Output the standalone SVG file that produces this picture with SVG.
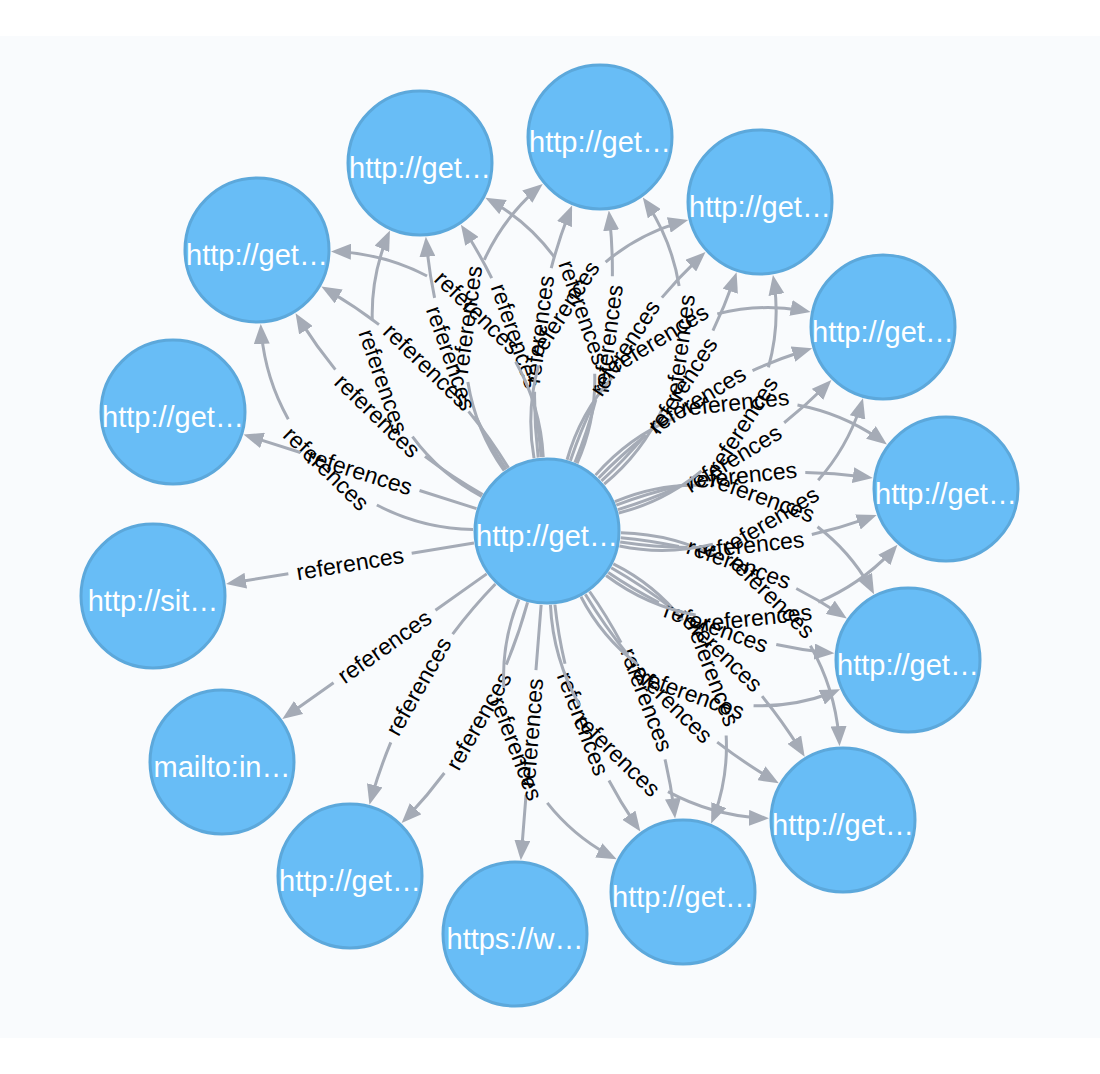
<svg xmlns="http://www.w3.org/2000/svg" width="1100" height="1074" viewBox="0 0 1100 1074">
<style>
.node circle{fill:#68bdf6;stroke:#5ca8db;stroke-width:3}
.node text{font-family:"Liberation Sans",Arial,Helvetica,sans-serif;font-size:29px;fill:#ffffff;text-anchor:middle}
.rel path{fill:none;stroke:#a5abb6;stroke-width:3;marker-end:url(#arrow)}
.rel text{font-family:"Liberation Sans",Arial,Helvetica,sans-serif;font-size:23px;fill:#000000;text-anchor:middle}
</style>
<defs>
<marker id="arrow" viewBox="-20 -8 20 16" refX="0" refY="0" markerWidth="20" markerHeight="16" markerUnits="userSpaceOnUse" orient="auto"><path d="M0 0L-20 -8L-20 8Z" fill="#a5abb6"/></marker>
</defs>
<rect x="0" y="0" width="1100" height="1074" fill="#ffffff"/>
<rect x="0" y="36" width="1100" height="1002" fill="#f9fbfd"/>
<g id="connectors">
<g id="rels-n1" class="rel" transform="translate(547 531) rotate(-82.34)">
<path d="M54.12 50.47A212.07 212.07 0 0 0 343.38 50.47" stroke-dasharray="96.65 125 86.65 1000"/>
<path d="M71.64 18.53A507.7 507.7 0 0 0 325.86 18.53" stroke-dasharray="66 125 56 1000"/>
<path d="M71.64 -18.53A507.7 507.7 0 0 1 325.86 -18.53" stroke-dasharray="66 125 56 1000"/>
<path d="M54.12 -50.47A212.07 212.07 0 0 1 343.38 -50.47" stroke-dasharray="96.65 125 86.65 1000"/>
<text x="198.75" y="107.44" dy="8">references</text>
<text x="198.75" y="34.72" dy="8">references</text>
<text x="198.75" y="-34.72" dy="8">references</text>
<text x="198.75" y="-107.44" dy="8">references</text>
</g>
<g id="rels-n2" class="rel" transform="translate(547 531) rotate(-109.04)">
<path d="M54.12 50.47A206.06 206.06 0 0 0 335.18 50.47" stroke-dasharray="92.15 125 82.15 1000"/>
<path d="M71.64 18.53A491.3 491.3 0 0 0 317.66 18.53" stroke-dasharray="61.85 125 51.85 1000"/>
<path d="M71.64 -18.53A491.3 491.3 0 0 1 317.66 -18.53" stroke-dasharray="61.85 125 51.85 1000"/>
<path d="M54.12 -50.47A206.06 206.06 0 0 1 335.18 -50.47" stroke-dasharray="92.15 125 82.15 1000"/>
<text x="194.65" y="105.83" dy="8" transform="rotate(180 194.65 105.83)">references</text>
<text x="194.65" y="34.2" dy="8" transform="rotate(180 194.65 34.2)">references</text>
<text x="194.65" y="-34.2" dy="8" transform="rotate(180 194.65 -34.2)">references</text>
<text x="194.65" y="-105.83" dy="8" transform="rotate(180 194.65 -105.83)">references</text>
</g>
<g id="rels-n3" class="rel" transform="translate(547 531) rotate(-135.91)">
<path d="M54.12 50.47A216.69 216.69 0 0 0 349.68 50.47" stroke-dasharray="100.13 125 90.13 1000"/>
<path d="M71.64 18.53A520.26 520.26 0 0 0 332.16 18.53" stroke-dasharray="69.18 125 59.18 1000"/>
<path d="M71.64 -18.53A520.26 520.26 0 0 1 332.16 -18.53" stroke-dasharray="69.18 125 59.18 1000"/>
<path d="M54.12 -50.47A216.69 216.69 0 0 1 349.68 -50.47" stroke-dasharray="100.13 125 90.13 1000"/>
<text x="201.9" y="108.68" dy="8" transform="rotate(180 201.9 108.68)">references</text>
<text x="201.9" y="35.13" dy="8" transform="rotate(180 201.9 35.13)">references</text>
<text x="201.9" y="-35.13" dy="8" transform="rotate(180 201.9 -35.13)">references</text>
<text x="201.9" y="-108.68" dy="8" transform="rotate(180 201.9 -108.68)">references</text>
</g>
<g id="rels-n4" class="rel" transform="translate(547 531) rotate(-162.35)">
<path d="M74 0L318.5 0" stroke-dasharray="59.75 125 49.75 1000"/>
<text x="196.25" y="0" dy="8" transform="rotate(180 196.25 0)">references</text>
</g>
<g id="rels-n5" class="rel" transform="translate(547 531) rotate(170.63)">
<path d="M74 0L325.3 0" stroke-dasharray="63.15 125 53.15 1000"/>
<text x="199.65" y="0" dy="8" transform="rotate(180 199.65 0)">references</text>
</g>
<g id="rels-n6" class="rel" transform="translate(547 531) rotate(144.6)">
<path d="M74 0L324.7 0" stroke-dasharray="62.85 125 52.85 1000"/>
<text x="199.35" y="0" dy="8" transform="rotate(180 199.35 0)">references</text>
</g>
<g id="rels-n7" class="rel" transform="translate(547 531) rotate(119.72)">
<path d="M71.64 18.53A507.28 507.28 0 0 0 325.66 18.53" stroke-dasharray="65.89 125 55.89 1000"/>
<path d="M71.64 -18.53A507.28 507.28 0 0 1 325.66 -18.53" stroke-dasharray="65.89 125 55.89 1000"/>
<text x="198.65" y="34.71" dy="8" transform="rotate(180 198.65 34.71)">references</text>
<text x="198.65" y="-34.71" dy="8" transform="rotate(180 198.65 -34.71)">references</text>
</g>
<g id="rels-n8" class="rel" transform="translate(547 531) rotate(94.54)">
<path d="M74 0L330.3 0" stroke-dasharray="65.65 125 55.65 1000"/>
<text x="202.15" y="0" dy="8" transform="rotate(180 202.15 0)">references</text>
</g>
<g id="rels-n9" class="rel" transform="translate(547 531) rotate(69.36)">
<path d="M54.12 50.47A203.49 203.49 0 0 0 331.68 50.47" stroke-dasharray="90.22 125 80.22 1000"/>
<path d="M71.64 18.53A484.31 484.31 0 0 0 314.16 18.53" stroke-dasharray="60.08 125 50.08 1000"/>
<path d="M71.64 -18.53A484.31 484.31 0 0 1 314.16 -18.53" stroke-dasharray="60.08 125 50.08 1000"/>
<path d="M54.12 -50.47A203.49 203.49 0 0 1 331.68 -50.47" stroke-dasharray="90.22 125 80.22 1000"/>
<text x="192.9" y="105.14" dy="8">references</text>
<text x="192.9" y="33.98" dy="8">references</text>
<text x="192.9" y="-33.98" dy="8">references</text>
<text x="192.9" y="-105.14" dy="8">references</text>
</g>
<g id="rels-n10" class="rel" transform="translate(547 531) rotate(44.32)">
<path d="M54.12 50.47A223.95 223.95 0 0 0 359.58 50.47" stroke-dasharray="105.57 125 95.57 1000"/>
<path d="M71.64 18.53A540.03 540.03 0 0 0 342.06 18.53" stroke-dasharray="74.18 125 64.18 1000"/>
<path d="M71.64 -18.53A540.03 540.03 0 0 1 342.06 -18.53" stroke-dasharray="74.18 125 64.18 1000"/>
<path d="M54.12 -50.47A223.95 223.95 0 0 1 359.58 -50.47" stroke-dasharray="105.57 125 95.57 1000"/>
<text x="206.85" y="110.63" dy="8">references</text>
<text x="206.85" y="35.76" dy="8">references</text>
<text x="206.85" y="-35.76" dy="8">references</text>
<text x="206.85" y="-110.63" dy="8">references</text>
</g>
<g id="rels-n11" class="rel" transform="translate(547 531) rotate(19.66)">
<path d="M54.12 50.47A201.73 201.73 0 0 0 329.28 50.47" stroke-dasharray="88.9 125 78.9 1000"/>
<path d="M71.64 18.53A479.52 479.52 0 0 0 311.76 18.53" stroke-dasharray="58.87 125 48.87 1000"/>
<path d="M71.64 -18.53A479.52 479.52 0 0 1 311.76 -18.53" stroke-dasharray="58.87 125 48.87 1000"/>
<path d="M54.12 -50.47A201.73 201.73 0 0 1 329.28 -50.47" stroke-dasharray="88.9 125 78.9 1000"/>
<text x="191.7" y="104.66" dy="8">references</text>
<text x="191.7" y="33.83" dy="8">references</text>
<text x="191.7" y="-33.83" dy="8">references</text>
<text x="191.7" y="-104.66" dy="8">references</text>
</g>
<g id="rels-n12" class="rel" transform="translate(547 531) rotate(-6.01)">
<path d="M54.12 50.47A214.78 214.78 0 0 0 347.08 50.47" stroke-dasharray="98.7 125 88.7 1000"/>
<path d="M71.64 18.53A515.07 515.07 0 0 0 329.56 18.53" stroke-dasharray="67.86 125 57.86 1000"/>
<path d="M71.64 -18.53A515.07 515.07 0 0 1 329.56 -18.53" stroke-dasharray="67.86 125 57.86 1000"/>
<path d="M54.12 -50.47A214.78 214.78 0 0 1 347.08 -50.47" stroke-dasharray="98.7 125 88.7 1000"/>
<text x="200.6" y="108.17" dy="8">references</text>
<text x="200.6" y="34.96" dy="8">references</text>
<text x="200.6" y="-34.96" dy="8">references</text>
<text x="200.6" y="-108.17" dy="8">references</text>
</g>
<g id="rels-n13" class="rel" transform="translate(547 531) rotate(-31.26)">
<path d="M54.12 50.47A208.85 208.85 0 0 0 338.98 50.47" stroke-dasharray="94.24 125 84.24 1000"/>
<path d="M71.64 18.53A498.89 498.89 0 0 0 321.46 18.53" stroke-dasharray="63.77 125 53.77 1000"/>
<path d="M71.64 -18.53A498.89 498.89 0 0 1 321.46 -18.53" stroke-dasharray="63.77 125 53.77 1000"/>
<path d="M54.12 -50.47A208.85 208.85 0 0 1 338.98 -50.47" stroke-dasharray="94.24 125 84.24 1000"/>
<text x="196.55" y="106.57" dy="8">references</text>
<text x="196.55" y="34.44" dy="8">references</text>
<text x="196.55" y="-34.44" dy="8">references</text>
<text x="196.55" y="-106.57" dy="8">references</text>
</g>
<g id="rels-n14" class="rel" transform="translate(547 531) rotate(-57.08)">
<path d="M54.12 50.47A207.97 207.97 0 0 0 337.78 50.47" stroke-dasharray="93.58 125 83.58 1000"/>
<path d="M71.64 18.53A496.49 496.49 0 0 0 320.26 18.53" stroke-dasharray="63.16 125 53.16 1000"/>
<path d="M71.64 -18.53A496.49 496.49 0 0 1 320.26 -18.53" stroke-dasharray="63.16 125 53.16 1000"/>
<path d="M54.12 -50.47A207.97 207.97 0 0 1 337.78 -50.47" stroke-dasharray="93.58 125 83.58 1000"/>
<text x="195.95" y="106.34" dy="8">references</text>
<text x="195.95" y="34.37" dy="8">references</text>
<text x="195.95" y="-34.37" dy="8">references</text>
<text x="195.95" y="-106.34" dy="8">references</text>
</g>
</g>
<g id="node-center" class="node"><circle cx="547" cy="531" r="72"/><text x="547" y="546">http://get…</text></g>
<g id="node-1" class="node"><circle cx="600" cy="137" r="72"/><text x="600" y="152">http://get…</text></g>
<g id="node-2" class="node"><circle cx="420" cy="163" r="72"/><text x="420" y="178">http://get…</text></g>
<g id="node-3" class="node"><circle cx="257" cy="250" r="72"/><text x="257" y="265">http://get…</text></g>
<g id="node-4" class="node"><circle cx="173" cy="412" r="72"/><text x="173" y="427">http://get…</text></g>
<g id="node-5" class="node"><circle cx="153" cy="596" r="72"/><text x="153" y="611">http://sit…</text></g>
<g id="node-6" class="node"><circle cx="222" cy="762" r="72"/><text x="222" y="777">mailto:in…</text></g>
<g id="node-7" class="node"><circle cx="350" cy="876" r="72"/><text x="350" y="891">http://get…</text></g>
<g id="node-8" class="node"><circle cx="515" cy="934" r="72"/><text x="515" y="949">https://w…</text></g>
<g id="node-9" class="node"><circle cx="683" cy="892" r="72"/><text x="683" y="907">http://get…</text></g>
<g id="node-10" class="node"><circle cx="843" cy="820" r="72"/><text x="843" y="835">http://get…</text></g>
<g id="node-11" class="node"><circle cx="908" cy="660" r="72"/><text x="908" y="675">http://get…</text></g>
<g id="node-12" class="node"><circle cx="946" cy="489" r="72"/><text x="946" y="504">http://get…</text></g>
<g id="node-13" class="node"><circle cx="883" cy="327" r="72"/><text x="883" y="342">http://get…</text></g>
<g id="node-14" class="node"><circle cx="760" cy="202" r="72"/><text x="760" y="217">http://get…</text></g>
</svg>
